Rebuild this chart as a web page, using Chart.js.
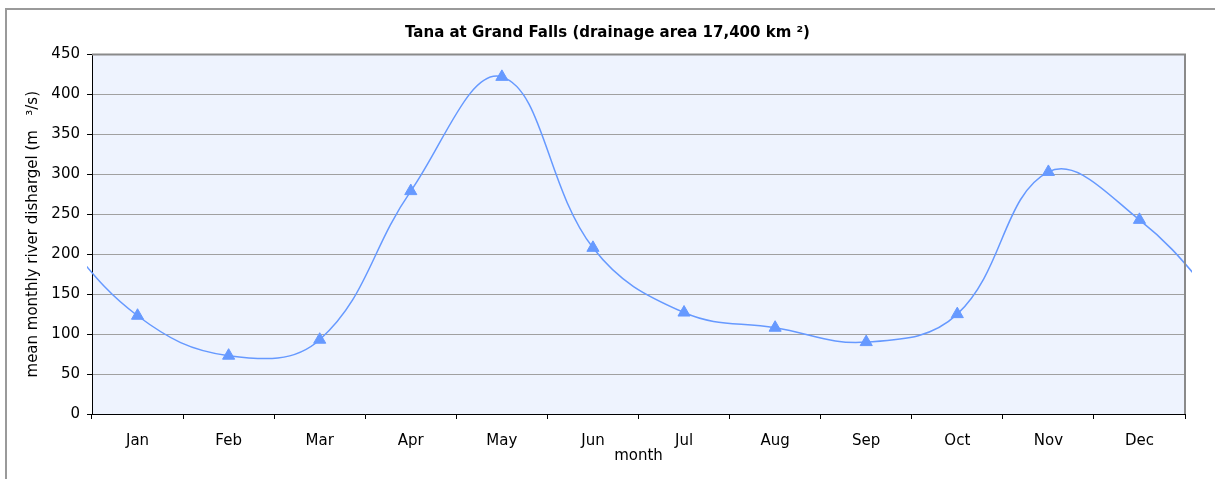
<!DOCTYPE html>
<html>
<head>
<meta charset="utf-8">
<script src="https://cdn.jsdelivr.net/npm/chart.js@4/dist/chart.umd.min.js"></script>
<style>
html, body { margin: 0; padding: 0; background: #fff; }
#wrap { width: 1215px; height: 479px; }
</style>
</head>
<body>
<div id="wrap"><canvas id="c"></canvas></div>
<script>
// mean monthly discharge
const months = ['Jan', 'Feb', 'Mar', 'Apr', 'May', 'Jun', 'Jul', 'Aug', 'Sep', 'Oct', 'Nov', 'Dec'];
const flow = [123, 73, 93, 279, 422, 208, 127, 108, 90, 125, 303, 243];
const yMin = 0, yMax = 450, yStep = 50;

// the year wraps: Dec before Jan and Jan after Dec so the curve runs off both edges
const points = [{x: 0, y: flow[11]}]
  .concat(flow.map((v, i) => ({x: i + 1, y: v})))
  .concat([{x: 13, y: flow[0]}]);

Chart.defaults.font.family = '"DejaVu Sans", Arial, sans-serif';
Chart.defaults.color = '#000';

const lineBlue = '#6699ff';

const frame = {
  id: 'frame',
  beforeDraw(chart) {
    const c = chart.ctx, a = chart.chartArea;
    c.save();
    c.fillStyle = '#eef3fe';
    c.fillRect(a.left, a.top, a.right - a.left, a.bottom - a.top);
    c.strokeStyle = '#9a9a9a';
    c.lineWidth = 2;
    c.strokeRect(6, 9, 1230, 490);
    c.restore();
  },
  afterDraw(chart) {
    const c = chart.ctx, a = chart.chartArea;
    c.save();
    c.strokeStyle = '#8a8a8a';
    c.lineWidth = 2;
    c.beginPath();
    c.moveTo(a.left, a.top);
    c.lineTo(a.right, a.top);
    c.lineTo(a.right, a.bottom);
    c.stroke();
    c.restore();
  }
};

new Chart(document.getElementById('c'), {
  type: 'line',
  data: {
    datasets: [{
      data: points,
      xAxisID: 'xd',
      borderColor: lineBlue,
      backgroundColor: lineBlue,
      borderWidth: 1.5,
      tension: 0.4,
      pointStyle: 'triangle',
      pointRadius: ctx => (ctx.dataIndex === 0 || ctx.dataIndex === points.length - 1) ? 0 : 7,
      pointBorderWidth: 1,
      clip: {left: 5, right: 7, top: 20, bottom: 0}
    }]
  },
  options: {
    animation: false,
    responsive: true,
    maintainAspectRatio: false,
    devicePixelRatio: 1,
    layout: { padding: 0 },
    plugins: {
      legend: { display: false },
      tooltip: { enabled: false },
      title: {
        display: true,
        text: 'Tana at Grand Falls (drainage area 17,400 km ²)',
        color: '#000',
        font: { size: 15, weight: 'bold' },
        padding: { top: 24, bottom: 12.5 }
      }
    },
    scales: {
      x: {
        type: 'category',
        labels: months,
        offset: true,
        grid: { offset: true, drawOnChartArea: false, tickLength: 5, tickColor: '#000' },
        border: { color: '#000', width: 1 },
        ticks: { padding: 13, font: { size: 15 }, maxRotation: 0, autoSkip: false },
        title: { display: true, text: 'month', font: { size: 15 }, padding: { top: 0, bottom: 14 } },
        afterFit: s => { s.height = 65; }
      },
      xd: { type: 'linear', display: false, min: 0.5, max: 12.5 },
      y: {
        min: yMin,
        max: yMax,
        ticks: { stepSize: yStep, padding: 7, font: { size: 15 } },
        grid: { color: '#a0a0a0', tickLength: 5, tickColor: '#000' },
        border: { color: '#000', width: 1 },
        title: {
          display: true,
          text: 'mean monthly river dishargel (m   ³/s)',
          font: { size: 15 },
          padding: { top: 24, bottom: 0 }
        },
        afterFit: s => { s.width = 92; }
      },
      // empty strip on the right so the title centres on the whole canvas
      yr: {
        position: 'right',
        grid: { display: false },
        ticks: { display: false },
        border: { display: false },
        afterFit: s => { s.width = 30; }
      }
    }
  },
  plugins: [frame]
});
</script>
</body>
</html>
